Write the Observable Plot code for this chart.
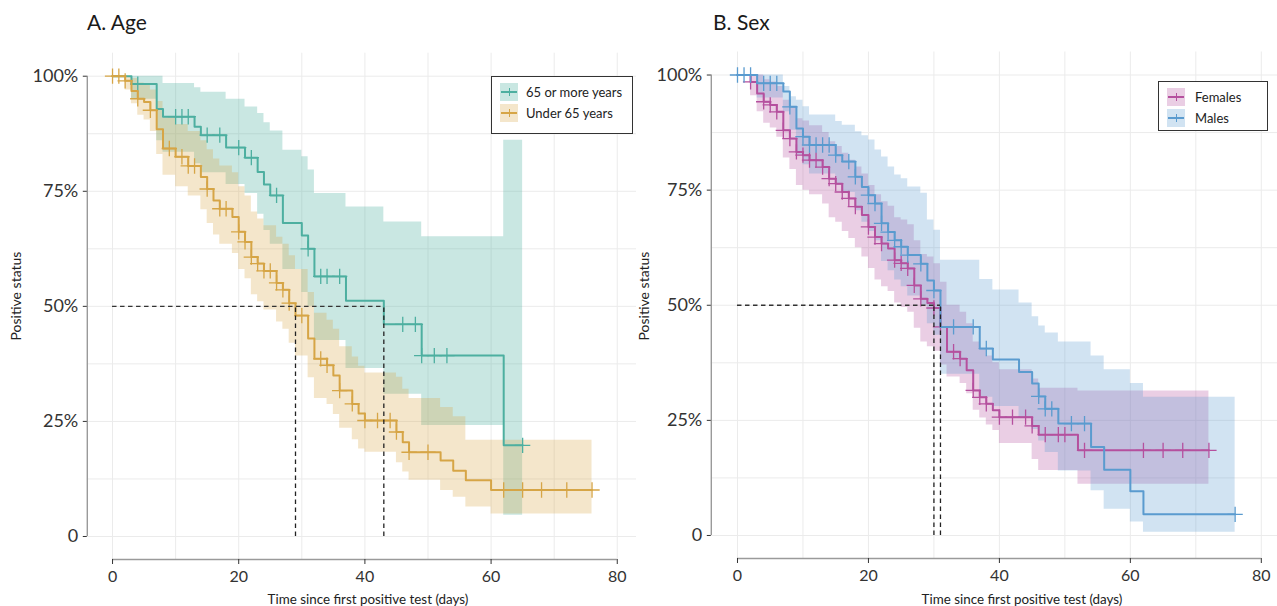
<!DOCTYPE html>
<html>
<head>
<meta charset="utf-8">
<script src="https://cdn.jsdelivr.net/npm/d3@7"></script>
<script src="https://cdn.jsdelivr.net/npm/@observablehq/plot@0.6"></script>
<style>
  body { margin: 0; background: #fff; font-family: Lato, "Open Sans", sans-serif; }
  #wrap { position: relative; width: 1277px; height: 606px; overflow: hidden; background: #fff; }
  .panel { position: absolute; top: 0; height: 606px; overflow: hidden; }
  .panel svg { max-width: none !important; height: 606px !important; display: block; }
  .title { position: absolute; top: 9px; font-size: 21px; line-height: 26px; color: #1a1a1a; white-space: nowrap; }
  .ylab { position: absolute; font-size: 14px; color: #222; white-space: nowrap; transform: translate(-50%, -50%) rotate(-90deg); }
  .xlab { position: absolute; top: 591px; font-size: 13.4px; line-height: 16px; color: #222; white-space: nowrap; transform: translateX(-50%); }
  .legend { position: absolute; border: 1px solid #333; background: #fff; box-sizing: border-box; }
  .item { position: absolute; left: 8px; height: 18px; display: flex; align-items: center; font-size: 13px; color: #222; white-space: nowrap; }
  .key { position: relative; width: 18px; height: 18px; margin-right: 8px; }
  .key .h { position: absolute; left: 1px; right: 1px; top: 8px; height: 2px; }
  .key .v { position: absolute; left: 8.5px; width: 1.3px; top: 5px; height: 8px; }
</style>
</head>
<body>
<div id="wrap"></div>
<script>
// ---------- Data ----------
const xTicks = [0, 20, 40, 60, 80];
const xTickLabels = ["0", "20", "40", "60", "80"];
const yTicks = [0, 0.25, 0.5, 0.75, 1];
const yTickLabels = ["0", "25%", "50%", "75%", "100%"];
const gridX = [0, 10, 20, 30, 40, 50, 60, 70, 80];
const gridY = [0, 0.125, 0.25, 0.375, 0.5, 0.625, 0.75, 0.875, 1];

// A. Age — 65 or more years
const oldTime  = [0, 3, 7, 8, 13, 14, 18, 21, 23, 24, 25, 27, 30, 31, 32, 37, 43, 49, 62];
const oldSurv  = [1, 0.983, 0.929, 0.912, 0.890, 0.872, 0.845, 0.823, 0.792, 0.765, 0.741, 0.681, 0.654, 0.625, 0.565, 0.512, 0.461, 0.393, 0.198];
const oldLower = [1, 0.95, 0.86, 0.835, 0.81, 0.79, 0.765, 0.745, 0.70, 0.665, 0.635, 0.58, 0.53, 0.50, 0.426, 0.365, 0.309, 0.241, 0.046];
const oldUpper = [1, 1, 1, 0.984, 0.975, 0.965, 0.95, 0.933, 0.919, 0.899, 0.881, 0.839, 0.825, 0.796, 0.745, 0.716, 0.683, 0.651, 0.861];
const oldCensor = [4, 10, 11, 12, 15, 17, 20, 22, 26, 31, 33, 34, 36, 46, 48, 49, 51, 53, 65];
const oldEnd = 65;

// A. Age — Under 65 years
const youngTime  = [0, 2, 3, 4, 5, 6, 7, 8, 10, 12, 14, 15, 16, 17, 19, 20, 21, 22, 23, 24, 26, 27, 28, 29, 31, 32, 34, 35, 36, 38, 39, 40, 45, 46, 47, 52, 54, 56, 60];
const youngSurv  = [1, 0.99, 0.968, 0.951, 0.944, 0.926, 0.885, 0.843, 0.825, 0.805, 0.781, 0.755, 0.73, 0.712, 0.694, 0.662, 0.64, 0.607, 0.593, 0.577, 0.551, 0.536, 0.507, 0.48, 0.43, 0.386, 0.372, 0.35, 0.317, 0.288, 0.267, 0.252, 0.227, 0.205, 0.183, 0.165, 0.143, 0.122, 0.101];
const youngLower = [1, 0.97, 0.94, 0.915, 0.905, 0.88, 0.83, 0.785, 0.76, 0.74, 0.71, 0.68, 0.655, 0.635, 0.615, 0.58, 0.56, 0.525, 0.51, 0.492, 0.466, 0.45, 0.42, 0.392, 0.345, 0.30, 0.287, 0.265, 0.235, 0.21, 0.19, 0.183, 0.16, 0.14, 0.122, 0.10, 0.085, 0.064, 0.049];
const youngUpper = [1, 1, 0.995, 0.985, 0.98, 0.97, 0.945, 0.91, 0.895, 0.88, 0.86, 0.84, 0.82, 0.805, 0.79, 0.76, 0.74, 0.705, 0.69, 0.675, 0.65, 0.635, 0.61, 0.58, 0.53, 0.485, 0.47, 0.45, 0.412, 0.39, 0.37, 0.355, 0.346, 0.32, 0.30, 0.28, 0.26, 0.209, 0.209];
const youngCensor = [0, 1, 2, 4, 6, 9, 11, 12, 13, 15, 17, 18, 20, 21, 22, 23, 24, 25, 26, 27, 28, 30, 33, 34, 36, 38, 40, 42, 44, 45, 47, 50, 62, 65, 68, 72, 76];
const youngEnd = 76;
const ageMedians = [29, 43];

// B. Sex — Females
const femTime  = [0, 2, 3, 4, 5, 6, 7, 8, 9, 10, 11, 13, 14, 15, 16, 17, 18, 19, 20, 21, 22, 23, 24, 25, 26, 27, 28, 29, 30, 31, 32, 34, 35, 36, 37, 38, 39, 40, 45, 46, 52];
const femSurv  = [1, 0.985, 0.96, 0.942, 0.935, 0.92, 0.88, 0.862, 0.833, 0.826, 0.815, 0.8, 0.775, 0.764, 0.746, 0.732, 0.714, 0.696, 0.67, 0.648, 0.634, 0.623, 0.598, 0.591, 0.58, 0.543, 0.514, 0.505, 0.494, 0.453, 0.399, 0.384, 0.359, 0.315, 0.3, 0.286, 0.272, 0.257, 0.238, 0.219, 0.185];
const femLower = [1, 0.955, 0.92, 0.895, 0.885, 0.865, 0.82, 0.795, 0.76, 0.75, 0.74, 0.72, 0.69, 0.68, 0.66, 0.645, 0.625, 0.605, 0.58, 0.555, 0.54, 0.53, 0.505, 0.495, 0.485, 0.45, 0.42, 0.41, 0.4, 0.37, 0.344, 0.33, 0.308, 0.272, 0.255, 0.24, 0.228, 0.2, 0.165, 0.141, 0.111];
const femUpper = [1, 1, 1, 0.99, 0.985, 0.975, 0.945, 0.93, 0.905, 0.9, 0.89, 0.875, 0.855, 0.845, 0.83, 0.815, 0.8, 0.785, 0.76, 0.74, 0.725, 0.715, 0.69, 0.685, 0.675, 0.64, 0.61, 0.605, 0.59, 0.55, 0.5, 0.485, 0.46, 0.42, 0.405, 0.39, 0.375, 0.36, 0.34, 0.32, 0.314];
const femCensor = [2, 4, 5, 6, 7, 8, 9, 10, 11, 12, 13, 14, 15, 16, 17, 18, 20, 21, 22, 24, 25, 26, 27, 28, 30, 31, 33, 34, 36, 37, 38, 40, 42, 44, 45, 47, 49, 50, 53, 62, 65, 68, 72];
const femEnd = 72;

// B. Sex — Males
const maleTime  = [0, 3, 7, 8, 9, 10, 11, 15, 16, 18, 19, 20, 21, 22, 23, 24, 25, 26, 28, 29, 30, 31, 37, 39, 43, 45, 46, 47, 49, 54, 56, 60, 62];
const maleSurv  = [1, 0.982, 0.964, 0.931, 0.884, 0.866, 0.848, 0.826, 0.812, 0.779, 0.757, 0.739, 0.721, 0.678, 0.659, 0.641, 0.627, 0.609, 0.59, 0.554, 0.532, 0.453, 0.406, 0.382, 0.355, 0.33, 0.302, 0.275, 0.243, 0.192, 0.143, 0.096, 0.046];
const maleLower = [1, 0.95, 0.92, 0.88, 0.825, 0.805, 0.785, 0.76, 0.745, 0.705, 0.68, 0.66, 0.64, 0.595, 0.575, 0.555, 0.54, 0.52, 0.5, 0.46, 0.435, 0.35, 0.3, 0.28, 0.255, 0.23, 0.205, 0.18, 0.14, 0.097, 0.057, 0.029, 0.007];
const maleUpper = [1, 1, 0.975, 0.953, 0.945, 0.931, 0.913, 0.899, 0.891, 0.877, 0.868, 0.859, 0.837, 0.822, 0.8, 0.783, 0.775, 0.757, 0.743, 0.685, 0.663, 0.598, 0.556, 0.533, 0.505, 0.475, 0.455, 0.44, 0.42, 0.39, 0.36, 0.33, 0.30];
const maleCensor = [0, 1, 2, 4, 5, 6, 8, 10, 11, 12, 13, 14, 15, 17, 18, 20, 21, 22, 23, 24, 25, 26, 28, 30, 33, 36, 38, 46, 47, 48, 51, 53, 76];
const maleEnd = 76;
const sexMedians = [30, 31];

// ---------- Helpers ----------
function stepRows(time, surv, lower, upper, end) {
  const r = time.map((t, i) => ({t, s: surv[i], lo: lower[i], hi: upper[i]}));
  const last = r[r.length - 1];
  r.push({t: end, s: last.s, lo: last.lo, hi: last.hi});
  return r;
}
function censorRows(time, surv, cens) {
  return cens.map(c => ({t: c, s: surv[d3.bisectRight(time, c) - 1]}));
}

const xDomain = [-4, 84];
const yDomain = [-0.05, 1.05];

function panelPlot(cfg) {
  const marks = [
    Plot.ruleY(gridY, {x1: xDomain[0], x2: xDomain[1], stroke: "#ebebeb", strokeWidth: 1}),
    Plot.ruleX(gridX, {y1: yDomain[0], y2: yDomain[1], stroke: "#ebebeb", strokeWidth: 1})
  ];
  for (const g of cfg.groups) {
    marks.push(Plot.areaY(g.rows, {x: "t", y1: "lo", y2: "hi", curve: "step-after", fill: g.color, fillOpacity: g.alpha}));
  }
  for (const g of cfg.groups) {
    marks.push(Plot.line(g.rows, {x: "t", y: "s", curve: "step-after", stroke: g.color, strokeWidth: 2}));
    marks.push(Plot.dot(g.cens, {x: "t", y: "s", symbol: "plus", r: 5, fill: "none", stroke: g.color, strokeWidth: 1.3}));
  }
  marks.push(
    Plot.ruleY([0.5], {x1: 0, x2: d3.max(cfg.medians), stroke: "#333", strokeWidth: 1.3, strokeDasharray: "4.5,3.5"}),
    Plot.ruleX(cfg.medians, {y1: 0, y2: 0.5, stroke: "#222", strokeWidth: 1.3, strokeDasharray: "4.5,3.5"}),
    Plot.ruleX([xDomain[0]], {y1: 0, y2: 1, stroke: "#9a9a9a", strokeWidth: 1.4}),
    Plot.ruleY([yDomain[0]], {x1: 0, x2: 80, stroke: "#9a9a9a", strokeWidth: 1.4}),
    Plot.axisX({ticks: xTicks, tickSize: 5, tickPadding: 6, fontSize: 16, label: null,
      tickFormat: d => xTickLabels[xTicks.indexOf(d)]}),
    Plot.axisY({ticks: yTicks, tickSize: 4, tickPadding: 5, fontSize: 18, label: null,
      tickFormat: d => yTickLabels[yTicks.indexOf(d)]})
  );
  return Plot.plot({
    width: cfg.width, height: 606,
    marginLeft: cfg.ml, marginRight: cfg.mr, marginTop: cfg.mt, marginBottom: cfg.mb,
    x: {domain: xDomain},
    y: {domain: yDomain},
    style: {fontFamily: "Lato, 'Open Sans', sans-serif", color: "#333", background: "transparent", overflow: "hidden"},
    marks
  });
}

const teal = "#4DAFA0", gold = "#D6A546", pink = "#B5509E", blue = "#5A9BCF";

const panels = [
  {
    left: 0, boxW: 636, width: 645, ml: 86.8, mr: 3, mt: 52.7, mb: 47,
    title: "A. Age", titleX: 87, ylabX: 15, xlabX: 368,
    medians: ageMedians,
    groups: [
      {name: "65 or more years", color: teal, alpha: 0.3, rows: stepRows(oldTime, oldSurv, oldLower, oldUpper, oldEnd), cens: censorRows(oldTime, oldSurv, oldCensor)},
      {name: "Under 65 years", color: gold, alpha: 0.28, rows: stepRows(youngTime, youngSurv, youngLower, youngUpper, youngEnd), cens: censorRows(youngTime, youngSurv, youngCensor)}
    ],
    legend: {x: 491, y: 76, w: 142, h: 58, textGap: 8}
  },
  {
    left: 636, boxW: 641, width: 655, ml: 74.8, mr: 4, mt: 51.5, mb: 48,
    title: "B. Sex", titleX: 713, ylabX: 643, xlabX: 1022,
    medians: sexMedians,
    groups: [
      {name: "Females", color: pink, alpha: 0.28, rows: stepRows(femTime, femSurv, femLower, femUpper, femEnd), cens: censorRows(femTime, femSurv, femCensor)},
      {name: "Males", color: blue, alpha: 0.28, rows: stepRows(maleTime, maleSurv, maleLower, maleUpper, maleEnd), cens: censorRows(maleTime, maleSurv, maleCensor)}
    ],
    legend: {x: 1158, y: 81, w: 110, h: 50, textGap: 10}
  }
];

const wrap = document.getElementById("wrap");
for (const p of panels) {
  const box = document.createElement("div");
  box.className = "panel";
  box.style.left = p.left + "px";
  box.style.width = p.boxW + "px";
  box.appendChild(panelPlot(p));
  wrap.appendChild(box);

  const t = document.createElement("div");
  t.className = "title"; t.textContent = p.title; t.style.left = p.titleX + "px";
  wrap.appendChild(t);

  const yl = document.createElement("div");
  yl.className = "ylab"; yl.textContent = "Positive status";
  yl.style.left = p.ylabX + "px"; yl.style.top = "296px";
  wrap.appendChild(yl);

  const xl = document.createElement("div");
  xl.className = "xlab"; xl.textContent = "Time since first positive test (days)";
  xl.style.left = p.xlabX + "px";
  wrap.appendChild(xl);

  const lg = document.createElement("div");
  lg.className = "legend";
  Object.assign(lg.style, {left: p.legend.x + "px", top: p.legend.y + "px", width: p.legend.w + "px", height: p.legend.h + "px"});
  p.groups.forEach((g, i) => {
    const it = document.createElement("div");
    it.className = "item";
    it.style.top = (6 + i * 20.5) + "px";
    const key = document.createElement("div");
    key.className = "key";
    key.style.background = d3.color(g.color).copy({opacity: g.alpha}).formatRgb();
    key.style.marginRight = p.legend.textGap + "px";
    const h = document.createElement("div"); h.className = "h"; h.style.background = g.color;
    const v = document.createElement("div"); v.className = "v"; v.style.background = g.color;
    key.appendChild(h); key.appendChild(v);
    const lab = document.createElement("span"); lab.textContent = g.name;
    it.appendChild(key); it.appendChild(lab);
    lg.appendChild(it);
  });
  wrap.appendChild(lg);
}
</script>
</body>
</html>
